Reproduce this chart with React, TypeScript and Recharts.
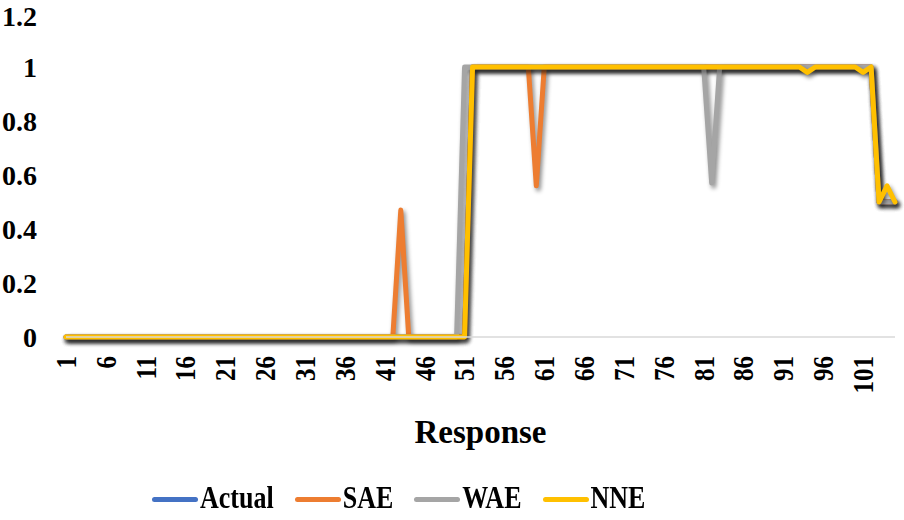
import { LineChart, Line, XAxis, YAxis } from 'recharts'

// Response number (x categories)
const responses = [
  1, 2, 3, 4, 5, 6, 7, 8, 9, 10,
  11, 12, 13, 14, 15, 16, 17, 18, 19, 20,
  21, 22, 23, 24, 25, 26, 27, 28, 29, 30,
  31, 32, 33, 34, 35, 36, 37, 38, 39, 40,
  41, 42, 43, 44, 45, 46, 47, 48, 49, 50,
  51, 52, 53, 54, 55, 56, 57, 58, 59, 60,
  61, 62, 63, 64, 65, 66, 67, 68, 69, 70,
  71, 72, 73, 74, 75, 76, 77, 78, 79, 80,
  81, 82, 83, 84, 85, 86, 87, 88, 89, 90,
  91, 92, 93, 94, 95, 96, 97, 98, 99, 100,
  101, 102, 103, 104, 105,
]

const actual = [
  0, 0, 0, 0, 0, 0, 0, 0, 0, 0,
  0, 0, 0, 0, 0, 0, 0, 0, 0, 0,
  0, 0, 0, 0, 0, 0, 0, 0, 0, 0,
  0, 0, 0, 0, 0, 0, 0, 0, 0, 0,
  0, 0, 0, 0, 0, 0, 0, 0, 0, 0,
  0, 1, 1, 1, 1, 1, 1, 1, 1, 1,
  1, 1, 1, 1, 1, 1, 1, 1, 1, 1,
  1, 1, 1, 1, 1, 1, 1, 1, 1, 1,
  1, 1, 1, 1, 1, 1, 1, 1, 1, 1,
  1, 1, 1, 1, 1, 1, 1, 1, 1, 1,
  1, 1, 0.5, 0.5, 0.5,
]

const sae = [
  0, 0, 0, 0, 0, 0, 0, 0, 0, 0,
  0, 0, 0, 0, 0, 0, 0, 0, 0, 0,
  0, 0, 0, 0, 0, 0, 0, 0, 0, 0,
  0, 0, 0, 0, 0, 0, 0, 0, 0, 0,
  0, 0, 0.47, 0, 0, 0, 0, 0, 0, 0,
  0, 1, 1, 1, 1, 1, 1, 1, 1, 0.56,
  1, 1, 1, 1, 1, 1, 1, 1, 1, 1,
  1, 1, 1, 1, 1, 1, 1, 1, 1, 1,
  1, 1, 1, 1, 1, 1, 1, 1, 1, 1,
  1, 1, 1, 1, 1, 1, 1, 1, 1, 1,
  1, 1, 0.5, 0.5, 0.5,
]

const wae = [
  0, 0, 0, 0, 0, 0, 0, 0, 0, 0,
  0, 0, 0, 0, 0, 0, 0, 0, 0, 0,
  0, 0, 0, 0, 0, 0, 0, 0, 0, 0,
  0, 0, 0, 0, 0, 0, 0, 0, 0, 0,
  0, 0, 0, 0, 0, 0, 0, 0, 0, 0,
  1, 1, 1, 1, 1, 1, 1, 1, 1, 1,
  1, 1, 1, 1, 1, 1, 1, 1, 1, 1,
  1, 1, 1, 1, 1, 1, 1, 1, 1, 1,
  1, 0.57, 1, 1, 1, 1, 1, 1, 1, 1,
  1, 1, 1, 1, 1, 1, 1, 1, 1, 1,
  1, 1, 0.5, 0.5, 0.5,
]

const nne = [
  0, 0, 0, 0, 0, 0, 0, 0, 0, 0,
  0, 0, 0, 0, 0, 0, 0, 0, 0, 0,
  0, 0, 0, 0, 0, 0, 0, 0, 0, 0,
  0, 0, 0, 0, 0, 0, 0, 0, 0, 0,
  0, 0, 0, 0, 0, 0, 0, 0, 0, 0,
  0, 1, 1, 1, 1, 1, 1, 1, 1, 1,
  1, 1, 1, 1, 1, 1, 1, 1, 1, 1,
  1, 1, 1, 1, 1, 1, 1, 1, 1, 1,
  1, 1, 1, 1, 1, 1, 1, 1, 1, 1,
  1, 1, 1, 0.98, 1, 1, 1, 1, 1, 1,
  0.98, 1, 0.5, 0.56, 0.5,
]

const yTicks = [0, 0.2, 0.4, 0.6, 0.8, 1, 1.2]

const SERIES = [
  { key: 'actual', name: 'Actual', color: '#4472C4' },
  { key: 'sae', name: 'SAE', color: '#ED7D31' },
  { key: 'wae', name: 'WAE', color: '#A5A5A5' },
  { key: 'nne', name: 'NNE', color: '#FFC000' },
]

const FONT = '"Liberation Serif", "Times New Roman", serif'

const data = responses.map((r, i) => ({
  r,
  actual: actual[i],
  sae: sae[i],
  wae: wae[i],
  nne: nne[i],
}))

// rotated tick, glyphs a bit stretched like the source image
function XTick({ x, y, payload }: any) {
  return (
    <g transform={`translate(${x},${y})`}>
      <text
        transform="rotate(-90) scale(1,1.2)"
        textAnchor="end"
        dy="0.33em"
        fontSize={25}
        fontWeight="bold"
        fontFamily={FONT}
        fill="#000"
      >
        {payload.value}
      </text>
    </g>
  )
}

function LegendRow() {
  return (
    <div style={{
      position: 'absolute', left: 152, top: 484, display: 'flex', gap: 21,
      fontFamily: FONT, fontWeight: 'bold', fontSize: 26, color: '#000',
    }}>
      {SERIES.map(s => (
        <div key={s.key} style={{ display: 'flex', alignItems: 'center' }}>
          <span style={{ display: 'inline-block', width: 46, height: 5, borderRadius: 3, background: s.color, marginRight: 2 }} />
          <span style={{ display: 'inline-block', transform: 'scaleY(1.18)' }}>{s.name}</span>
        </div>
      ))}
    </div>
  )
}

export default function App() {
  return (
    <div style={{ position: 'relative', width: 904, height: 520, background: '#fff' }}>
      <style>{`
        body { margin: 0; }
        .recharts-line-curve { filter: drop-shadow(2px 3px 2px rgba(0,0,0,0.45)); }
      `}</style>
      <LineChart width={904} height={520} data={data} margin={{ top: 13, right: 9, bottom: 0, left: 0 }}>
        <XAxis
          dataKey="r"
          interval={4}
          height={183}
          tickLine={false}
          tickSize={0}
          tickMargin={19}
          axisLine={{ stroke: '#d9d9d9', strokeWidth: 1.5 }}
          tick={<XTick />}
          label={{ value: 'Response', position: 'insideTop', offset: 83, fontSize: 33, fontWeight: 'bold', fontFamily: FONT, fill: '#000' }}
        />
        <YAxis
          domain={[0, 1.2]}
          ticks={yTicks}
          width={66}
          axisLine={false}
          tickLine={false}
          tickSize={0}
          tickMargin={29}
          tick={{ fontSize: 28, fontWeight: 'bold', fontFamily: FONT, fill: '#000' }}
        />
        {SERIES.map(s => (
          <Line
            key={s.key}
            type="linear"
            dataKey={s.key}
            name={s.name}
            stroke={s.color}
            strokeWidth={5}
            strokeLinejoin="round"
            strokeLinecap="round"
            dot={false}
            activeDot={false}
            isAnimationActive={false}
          />
        ))}
      </LineChart>
      <LegendRow />
    </div>
  )
}
